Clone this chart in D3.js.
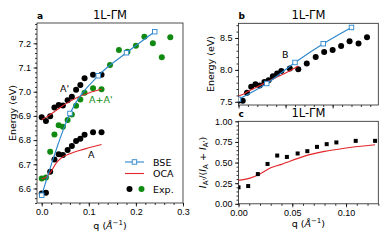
<!DOCTYPE html>
<html>
<head>
<meta charset="utf-8">
<script src="https://d3js.org/d3.v7.min.js"></script>
<style>
  body { margin: 0; background: #fff; }
  svg { font-family: "DejaVu Sans", sans-serif; }
  .tick text { font-size: 9px; fill: #000; }
  .domain { display: none; }
  .tick line { stroke: #000; stroke-width: 0.8; }
</style>
</head>
<body>
<svg width="389" height="243"></svg>
<script>
// experimental momentum grid (1/A)
const qExp = [0, 0.009, 0.018, 0.027, 0.036, 0.045, 0.055, 0.064, 0.073, 0.082, 0.091, 0.109, 0.127];
const qFar = [0.145, 0.164, 0.182, 0.200, 0.218, 0.236, 0.255, 0.273];

// panel a, experiment
const expAPrime = [6.894, 6.879, 6.899, 6.935, 6.945, 6.943, 6.965, 6.979, 7.008, 7.028, 7.056, 7.07, 7.07];
const expA = [6.579, 6.582, 6.669, 6.72, 6.741, 6.738, 6.759, 6.776, 6.796, 6.806, 6.822, 6.832, 6.832];
const expSum = [6.641, 6.645, 6.752, 6.823, 6.861, 6.855, 6.883, 6.906, 6.942, 6.968, 6.996, 7.014, 7.010];
const expSumFar = [7.110, 7.172, 7.165, 7.190, 7.227, 7.200, 7.142, 7.225];

// theory
const qBse = [0, 0.06, 0.12, 0.18, 0.24];
const bseA = [6.572, 6.910, 7.066, 7.161, 7.248];
const bseB = [7.54, 7.787, 8.116, 8.41, 8.665];
const qOca = [0, 0.01, 0.02, 0.03, 0.04, 0.06, 0.08, 0.10, 0.127];
const ocaAPrime = [6.885, 6.895, 6.908, 6.922, 6.936, 6.96, 6.98, 6.995, 7.01];
const ocaA = [6.64, 6.648, 6.67, 6.703, 6.724, 6.744, 6.757, 6.768, 6.782];
const ocaB = [7.59, 7.62, 7.66, 7.70, 7.735, 7.81, 7.88, 7.95, 8.06];
const ocaRatio = [0.284, 0.308, 0.362, 0.437, 0.478, 0.572, 0.635, 0.676, 0.716];

// panel b, experiment (qExp then qFar)
const expB = [7.516, 7.516, 7.64, 7.734, 7.777, 7.756, 7.812, 7.839, 7.9, 7.944, 7.984, 8.022, 8.011,
              8.1, 8.203, 8.28, 8.31, 8.375, 8.45, 8.412, 8.513];
// panel c, intensity ratio
const expRatio = [0.20, 0.215, 0.36, 0.483, 0.585, 0.568, 0.61, 0.638, 0.69, 0.723, 0.744, 0.763, 0.763];

const blue = '#2a86cc', red = '#e3262a', green = '#108a10';
const svg = d3.select('svg');
const zip = (xs, ys) => xs.map((x, i) => [x, ys[i]]);

function panel(o) {
  const g = svg.append('g');
  const x = d3.scaleLinear().domain(o.xd).range([o.l, o.r]);
  const y = d3.scaleLinear().domain(o.yd).range([o.b, o.t]);
  const fmtX = o.xlab ? d3.format(o.xf) : () => '';
  g.append('g').attr('transform', `translate(0,${o.b})`)
    .call(d3.axisBottom(x).tickValues(o.xmaj).tickSize(3.5).tickPadding(2.5).tickFormat(fmtX));
  g.append('g').attr('transform', `translate(0,${o.b})`)
    .call(d3.axisBottom(x).tickValues(o.xmin).tickSize(2).tickFormat(''));
  g.append('g').attr('transform', `translate(${o.l},0)`)
    .call(d3.axisLeft(y).tickValues(o.ymaj).tickSize(3.5).tickPadding(2.5).tickFormat(d3.format(o.yf)));
  g.append('g').attr('transform', `translate(${o.l},0)`)
    .call(d3.axisLeft(y).tickValues(o.ymin).tickSize(2).tickFormat(''));
  g.append('rect').attr('x', o.l).attr('y', o.t).attr('width', o.r - o.l).attr('height', o.b - o.t)
    .attr('fill', 'none').attr('stroke', '#222').attr('stroke-width', 0.8);
  g.append('text').attr('x', o.l).attr('y', o.t - 4).attr('font-size', 9).attr('font-weight', 'bold').text(o.letter);
  g.append('text').attr('x', (o.l + o.r) / 2).attr('y', o.t - 4).attr('font-size', 11.5)
    .attr('text-anchor', 'middle').text('1L-ΓM');
  const clip = 'clip' + o.letter;
  g.append('clipPath').attr('id', clip).append('rect')
    .attr('x', o.l).attr('y', o.t).attr('width', o.r - o.l).attr('height', o.b - o.t);
  const plot = g.append('g').attr('clip-path', `url(#${clip})`);
  return { g, x, y, plot };
}

function xTitle(g, cx, yy) {
  const t = g.append('text').attr('x', cx).attr('y', yy).attr('font-size', 9.5).attr('text-anchor', 'middle');
  t.append('tspan').text('q (');
  t.append('tspan').attr('font-style', 'italic').text('Å');
  t.append('tspan').attr('font-size', 7).attr('dy', -4).text('−1');
  t.append('tspan').attr('dy', 4).text(')');
}

function dots(p, xs, ys, col, r) {
  p.plot.selectAll(null).data(zip(xs, ys)).enter().append('circle')
    .attr('cx', d => p.x(d[0])).attr('cy', d => p.y(d[1])).attr('r', r).attr('fill', col);
}
function line(p, xs, ys, col, curve) {
  p.plot.append('path').datum(zip(xs, ys))
    .attr('d', d3.line().x(d => p.x(d[0])).y(d => p.y(d[1])).curve(curve))
    .attr('fill', 'none').attr('stroke', col).attr('stroke-width', 1.1);
}
function squares(p, xs, ys, col, s, fill) {
  p.plot.selectAll(null).data(zip(xs, ys)).enter().append('rect')
    .attr('x', d => p.x(d[0]) - s / 2).attr('y', d => p.y(d[1]) - s / 2)
    .attr('width', s).attr('height', s).attr('fill', fill).attr('stroke', col).attr('stroke-width', fill === 'white' ? 0.9 : 0);
}

// ---- panel a
const pa = panel({
  letter: 'a', l: 37, r: 183, t: 23, b: 203,
  xd: [-0.01, 0.30], yd: [6.54, 7.284],
  xmaj: [0, 0.1, 0.2, 0.3], xmin: d3.range(-0.0, 0.301, 0.02), xf: '.1f', xlab: true,
  ymaj: [6.6, 6.7, 6.8, 6.9, 7.0, 7.1, 7.2], ymin: d3.range(6.54, 7.28, 0.02), yf: '.1f'
});
dots(pa, qExp, expAPrime, '#000', 3);
dots(pa, qExp, expA, '#000', 3);
dots(pa, qExp, expSum, green, 3);
dots(pa, qFar, expSumFar, green, 3);
line(pa, qOca, ocaAPrime, red, d3.curveMonotoneX);
line(pa, qOca, ocaA, red, d3.curveMonotoneX);
line(pa, qBse, bseA, blue, d3.curveMonotoneX);
squares(pa, qBse, bseA, blue, 4.5, 'white');
pa.g.append('text').attr('x', 60).attr('y', 92).attr('font-size', 9.5).text("A'");
pa.g.append('text').attr('x', 89).attr('y', 103).attr('font-size', 9.5).attr('fill', green).text("A+A'");
pa.g.append('text').attr('x', 88).attr('y', 158).attr('font-size', 9.5).text('A');
pa.g.append('text').attr('transform', 'translate(16,113) rotate(-90)').attr('font-size', 9.5)
  .attr('text-anchor', 'middle').text('Energy (eV)');
xTitle(pa.g, 110, 229);

// legend
const lg = pa.g.append('g').attr('font-size', 9.5);
lg.append('line').attr('x1', 125).attr('x2', 144).attr('y1', 162).attr('y2', 162).attr('stroke', blue).attr('stroke-width', 1.1);
lg.append('rect').attr('x', 132.2).attr('y', 159.7).attr('width', 4.5).attr('height', 4.5).attr('fill', 'white').attr('stroke', blue).attr('stroke-width', 0.9);
lg.append('text').attr('x', 153).attr('y', 165.5).text('BSE');
lg.append('line').attr('x1', 125).attr('x2', 144).attr('y1', 173.5).attr('y2', 173.5).attr('stroke', red).attr('stroke-width', 1.1);
lg.append('text').attr('x', 153).attr('y', 177).text('OCA');
lg.append('circle').attr('cx', 129.5).attr('cy', 189).attr('r', 3).attr('fill', '#000');
lg.append('circle').attr('cx', 141.5).attr('cy', 189).attr('r', 3).attr('fill', green);
lg.append('text').attr('x', 153).attr('y', 192.5).text('Exp.');

// ---- panel b
const pb = panel({
  letter: 'b', l: 238.5, r: 378.3, t: 23.3, b: 105,
  xd: [0, 0.297], yd: [7.45, 8.73],
  xmaj: [0, 0.1, 0.2], xmin: d3.range(0, 0.297, 0.02), xf: '.1f', xlab: false,
  ymaj: [7.5, 8.0, 8.5], ymin: d3.range(7.5, 8.73, 0.1), yf: '.1f'
});
dots(pb, qExp.concat(qFar), expB, '#000', 3);
line(pb, qOca, ocaB, red, d3.curveMonotoneX);
line(pb, qBse, bseB, blue, d3.curveMonotoneX);
squares(pb, qBse, bseB, blue, 4.5, 'white');
pb.g.append('text').attr('x', 282).attr('y', 57.5).attr('font-size', 9.5).text('B');
pb.g.append('text').attr('transform', 'translate(214,64) rotate(-90)').attr('font-size', 9.5)
  .attr('text-anchor', 'middle').text('Energy (eV)');

// ---- panel c
const pc = panel({
  letter: 'c', l: 238.5, r: 378.3, t: 121.3, b: 203.8,
  xd: [0, 0.13], yd: [0, 1],
  xmaj: [0, 0.05, 0.10], xmin: d3.range(0, 0.131, 0.01), xf: '.2f', xlab: true,
  ymaj: [0, 0.25, 0.5, 0.75, 1], ymin: d3.range(0, 1.001, 0.05), yf: '.2f'
});
line(pc, qOca, ocaRatio, red, d3.curveMonotoneX);
squares(pc, qExp, expRatio, '#000', 4, '#000');
const yl = pc.g.append('text').attr('transform', 'translate(206,162.5) rotate(-90)').attr('font-size', 9.5)
  .attr('text-anchor', 'middle');
yl.append('tspan').attr('font-style', 'italic').text('I');
yl.append('tspan').attr('font-size', 7).attr('dy', 2).text("A'");
yl.append('tspan').attr('dy', -2).text('/(');
yl.append('tspan').attr('font-style', 'italic').text('I');
yl.append('tspan').attr('font-size', 7).attr('dy', 2).text('A');
yl.append('tspan').attr('dy', -2).text(' + ');
yl.append('tspan').attr('font-style', 'italic').text('I');
yl.append('tspan').attr('font-size', 7).attr('dy', 2).text("A'");
yl.append('tspan').attr('dy', -2).text(')');
xTitle(pc.g, 308.4, 227);
</script>
</body>
</html>
